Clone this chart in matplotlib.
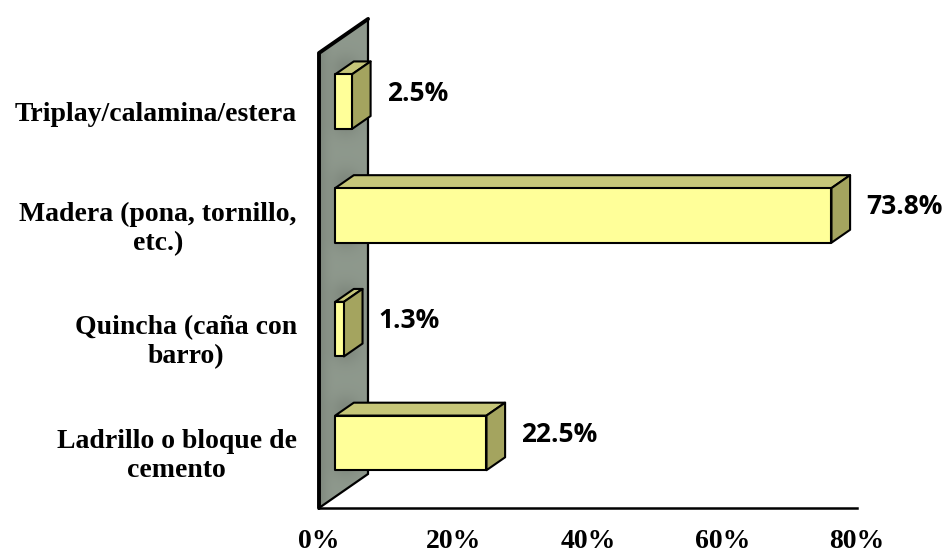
import matplotlib

matplotlib.use("Agg")
import matplotlib.pyplot as plt
import numpy as np
from matplotlib.patches import Polygon
from matplotlib.transforms import ScaledTranslation

# ---- data (bottom -> top, as drawn) -----------------------------------------
categories = [
    "Ladrillo o bloque de\ncemento",
    "Quincha (caña con\nbarro)",
    "Madera (pona, tornillo,\netc.)",
    "Triplay/calamina/estera",
]
values = [22.5, 1.3, 73.8, 2.5]
value_labels = ["22.5%", "1.3%", "73.8%", "2.5%"]
x_ticks = [0, 20, 40, 60, 80]
x_tick_labels = ["0%", "20%", "40%", "60%", "80%"]

# ---- layout (pixels of the 950x554 canvas) ----------------------------------
FIG_W, FIG_H = 950, 554
PLOT_L, PLOT_R, PLOT_B, PLOT_T = 319, 857, 508, 53
XMAX = 80
DEPTH_PX = (49, 34)          # oblique depth of the floor/wall
Z0, Z1 = 0.33, 0.71          # bar depth span (fraction of full depth)
BAR_H = 0.48                 # bar height in category units
BAR_SHIFT_PX = 3             # bars sit a little lower than the depth centre

FRONT = "#FFFF99"
TOP = "#C6C679"
SIDE = "#A4A45F"
SERIF = "Liberation Serif"

fig = plt.figure(figsize=(FIG_W / 100, FIG_H / 100), dpi=100)
ax = fig.add_axes([PLOT_L / FIG_W, 1 - PLOT_B / FIG_H,
                   (PLOT_R - PLOT_L) / FIG_W, (PLOT_B - PLOT_T) / FIG_H])
n = len(categories)
ax.set_xlim(0, XMAX)
ax.set_ylim(0, n)
ax.set_autoscale_on(False)

px_x = (PLOT_R - PLOT_L) / XMAX
px_y = (PLOT_B - PLOT_T) / n
dxf = DEPTH_PX[0] / px_x
dyf = DEPTH_PX[1] / px_y

# ---- back wall with soft shading --------------------------------------------
wall = [(0, 0), (0, n), (dxf, n + dyf), (dxf, dyf)]
ny, nx = 500, 80
yy = np.linspace(0, n + dyf, ny)[:, None]
xx = np.linspace(0, 1, nx)[None, :]
shade = 0.575 - 0.07 * np.clip(1 - xx / 0.35, 0, 1) ** 2
for i in range(n):
    yc = i + 0.5 + 0.5 * (Z0 + Z1) * dyf - BAR_SHIFT_PX / px_y
    d = np.clip(np.abs(yy - yc) - BAR_H / 2, 0, None)
    shade = shade - 0.06 * np.exp(-(d / 0.12) ** 2) * np.exp(-((xx - 0.55) / 0.3) ** 2)
rgb = np.clip(np.dstack([shade * 0.97, shade * 1.04, shade * 0.96]), 0, 1)
im = ax.imshow(rgb, extent=[0, dxf, 0, n + dyf], origin="lower",
               aspect="auto", zorder=1, interpolation="bilinear")
wall_patch = Polygon(wall, closed=True, facecolor="none", edgecolor="black",
                     linewidth=1.6, zorder=2, clip_on=False)
ax.add_patch(wall_patch)
im.set_clip_box(fig.bbox)
im.set_clip_path(wall_patch)
ax.plot([0, 0, dxf], [0, n, n + dyf], color="black", linewidth=2.8,
        solid_capstyle="round", solid_joinstyle="round", zorder=2, clip_on=False)

# floor front edge
ax.plot([0, XMAX], [0, 0], color="black", linewidth=1.8, zorder=2, clip_on=False)

# ---- 3D bars ----------------------------------------------------------------
ddx = (Z1 - Z0) * dxf
ddy = (Z1 - Z0) * dyf
for i, (v, lab) in enumerate(zip(values, value_labels)):
    x0 = Z0 * dxf
    y0 = i + 0.5 - BAR_H / 2 + Z0 * dyf - BAR_SHIFT_PX / px_y
    y1 = y0 + BAR_H
    faces = [
        ([(x0, y1), (x0 + v, y1), (x0 + v + ddx, y1 + ddy), (x0 + ddx, y1 + ddy)], TOP),
        ([(x0 + v, y0), (x0 + v + ddx, y0 + ddy), (x0 + v + ddx, y1 + ddy), (x0 + v, y1)], SIDE),
        ([(x0, y0), (x0 + v, y0), (x0 + v, y1), (x0, y1)], FRONT),
    ]
    for pts, col in faces:
        ax.add_patch(Polygon(pts, closed=True, facecolor=col, edgecolor="black",
                             linewidth=1.5, joinstyle="round", zorder=3, clip_on=False))
    ax.text(x0 + v + ddx + 16 / px_x, (y0 + y1) / 2 + ddy / 2 + 2 / px_y, lab,
            fontsize=19, fontweight="bold", family="Open Sans",
            ha="left", va="center", zorder=4, clip_on=False)

# ---- axes text --------------------------------------------------------------
ax.set_xticks(x_ticks)
ax.set_xticklabels(x_tick_labels, fontsize=20, fontweight="bold", family=SERIF)
ax.set_yticks([i + 0.5 for i in range(n)])
ax.set_yticklabels(categories, fontsize=20, fontweight="bold", family=SERIF,
                   multialignment="center", linespacing=1.22)
ax.tick_params(axis="x", length=0, pad=15)
ax.tick_params(axis="y", length=0, pad=16)
shift_down = ScaledTranslation(0, -5 / 100, fig.dpi_scale_trans)
for lbl in ax.get_yticklabels():
    lbl.set_va("center")
    lbl.set_transform(lbl.get_transform() + shift_down)
for side in ax.spines.values():
    side.set_visible(False)
ax.set_facecolor("none")

fig.savefig("out.png", dpi=100)
